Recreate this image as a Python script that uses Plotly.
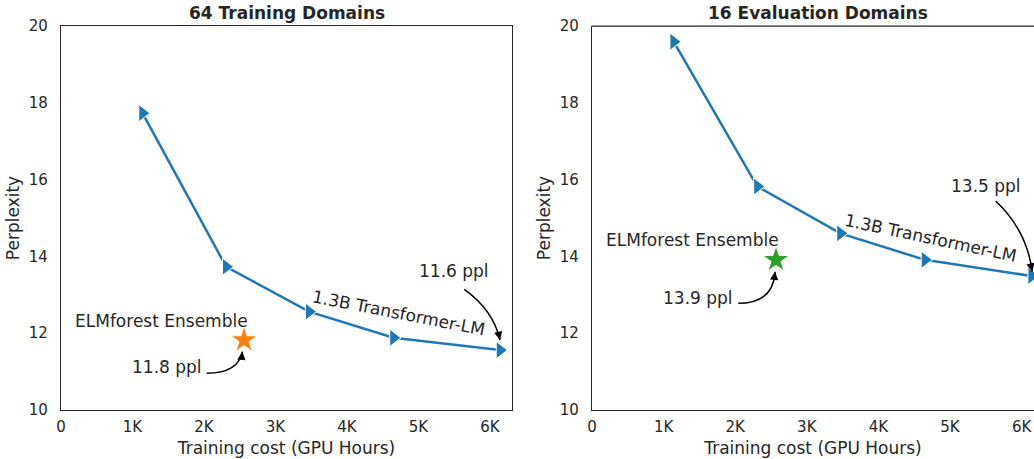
import plotly.graph_objects as go

# ---- data ----
gpu_hours = [1140, 2310, 3470, 4650, 6140]
train_ppl = [17.73, 13.73, 12.56, 11.88, 11.56]
eval_ppl = [19.59, 15.82, 14.60, 13.91, 13.49]
elm_hours = [2560, 2570]
elm_ppl = [11.82, 13.91]
panel_titles = ["64 Training Domains", "16 Evaluation Domains"]
x_tickvals = [0, 1000, 2000, 3000, 4000, 5000, 6000]
x_ticktext = ["0", "1K", "2K", "3K", "4K", "5K", "6K"]
y_tickvals = [10, 12, 14, 16, 18, 20]

TXT = "#262626"
FONT = "DejaVu Sans"
BLUE = "#1f77b4"

fig = go.Figure()

# Transformer-LM curves
for xa, ya, ys in [("x", "y", train_ppl), ("x2", "y2", eval_ppl)]:
    fig.add_trace(go.Scatter(
        x=gpu_hours, y=ys, xaxis=xa, yaxis=ya, mode="lines+markers",
        line=dict(color=BLUE, width=2.5),
        marker=dict(symbol="triangle-right", size=15, color=BLUE,
                    line=dict(color="white", width=1)),
        cliponaxis=False, showlegend=False, hoverinfo="x+y"))

# ELMforest stars
fig.add_trace(go.Scatter(x=[elm_hours[0]], y=[elm_ppl[0]], xaxis="x", yaxis="y",
                         mode="markers", cliponaxis=False, showlegend=False,
                         marker=dict(symbol="star", size=20, color="#ff7f0e",
                                     line=dict(color="white", width=1))))
fig.add_trace(go.Scatter(x=[elm_hours[1]], y=[elm_ppl[1]], xaxis="x2", yaxis="y2",
                         mode="markers", cliponaxis=False, showlegend=False,
                         marker=dict(symbol="star", size=20, color="#2ca02c",
                                     line=dict(color="white", width=1))))

axis_common = dict(showgrid=False, zeroline=False, ticks="",
                   showline=True, linecolor=TXT, linewidth=1.25,
                   tickfont=dict(family=FONT, size=15, color=TXT))
xtitle = dict(text="Training cost (GPU Hours)", font=dict(size=17, color=TXT), standoff=6)
ytitle = dict(text="Perplexity", font=dict(size=17, color=TXT), standoff=4)

fig.update_layout(
    width=1034, height=459,
    margin=dict(l=61, r=0, t=26, b=49),
    paper_bgcolor="white", plot_bgcolor="white",
    font=dict(family=FONT, color=TXT),
    xaxis=dict(domain=[0, 451 / 973], range=[0, 6308], tickvals=x_tickvals,
               ticktext=x_ticktext, mirror=True, anchor="y", ticklabelstandoff=3,
               title=xtitle, **axis_common),
    yaxis=dict(domain=[0, 1], range=[10, 20], tickvals=y_tickvals, mirror=True, anchor="x",
               ticklabelstandoff=9, title=ytitle, **axis_common),
    xaxis2=dict(domain=[531 / 973, 1.0], range=[0, 6173], tickvals=x_tickvals,
                ticktext=x_ticktext, mirror=False, anchor="y2", ticklabelstandoff=3,
                title=xtitle, **axis_common),
    yaxis2=dict(domain=[0, 1], range=[10, 20], tickvals=y_tickvals, mirror=False, anchor="x2",
                ticklabelstandoff=9, title=ytitle, **axis_common),
)

# top border of right panel (no right border: clipped by window edge)
fig.add_shape(type="line", xref="x2 domain", yref="y2 domain", x0=0, x1=1.02, y0=1, y1=1,
              line=dict(color=TXT, width=1.25), layer="above")

# panel titles
for xr, t in [("x domain", panel_titles[0]), ("x2 domain", panel_titles[1])]:
    fig.add_annotation(xref=xr, yref="paper", x=0.5 if xr == "x domain" else 451 / 442 / 2,
                       y=1, yanchor="middle", yshift=13, showarrow=False,
                       text="<b>%s</b>" % t, font=dict(family=FONT, size=17, color=TXT))

# text labels
labels = [
    ("x", "y", 1399, 12.318, "ELMforest Ensemble", 0),
    ("x", "y", 1483, 11.128, "11.8 ppl", 0),
    ("x", "y", 5494, 13.628, "11.6 ppl", 0),
    ("x", "y", 4727, 12.526, "1.3B Transformer-LM", 11),
    ("x2", "y2", 1408, 14.427, "ELMforest Ensemble", 0),
    ("x2", "y2", 1487, 12.925, "13.9 ppl", 0),
    ("x2", "y2", 5500, 15.833, "13.5 ppl", 0),
    ("x2", "y2", 4732, 14.48, "1.3B Transformer-LM", 12),
]
for xr, yr, x, y, t, ang in labels:
    fig.add_annotation(xref=xr, yref=yr, x=x, y=y, text=t, showarrow=False,
                       textangle=ang, font=dict(family=FONT, size=17, color=TXT))

# curved arrows: (xref, yref, start, control, tip, head offset px)
arrows = [
    ("x", "y", (2038, 10.956), (2480, 10.956), (2536, 11.518), (-1, 9)),
    ("x", "y", (5641, 13.143), (6046, 12.604), (6140, 11.823), (-2, -9)),
    ("x2", "y2", (2043, 12.779), (2532, 12.779), (2556, 13.602), (-1, 9)),
    ("x2", "y2", (5638, 15.443), (6071, 14.6875), (6149, 13.602), (-2, -9)),
]
for xr, yr, s, c, e, (dx, dy) in arrows:
    fig.add_shape(type="path", xref=xr, yref=yr,
                  path="M %g,%g Q %g,%g %g,%g" % (s[0], s[1], c[0], c[1], e[0], e[1]),
                  line=dict(color="black", width=1.5))
    fig.add_annotation(xref=xr, yref=yr, x=e[0], y=e[1], ax=dx, ay=dy, text="",
                       showarrow=True, arrowhead=2, arrowsize=1.1, arrowwidth=1.5,
                       arrowcolor="black")

fig.write_html("out.html", config={"displayModeBar": False},
               post_script="document.body.style.margin='0';document.body.style.overflow='hidden';")
